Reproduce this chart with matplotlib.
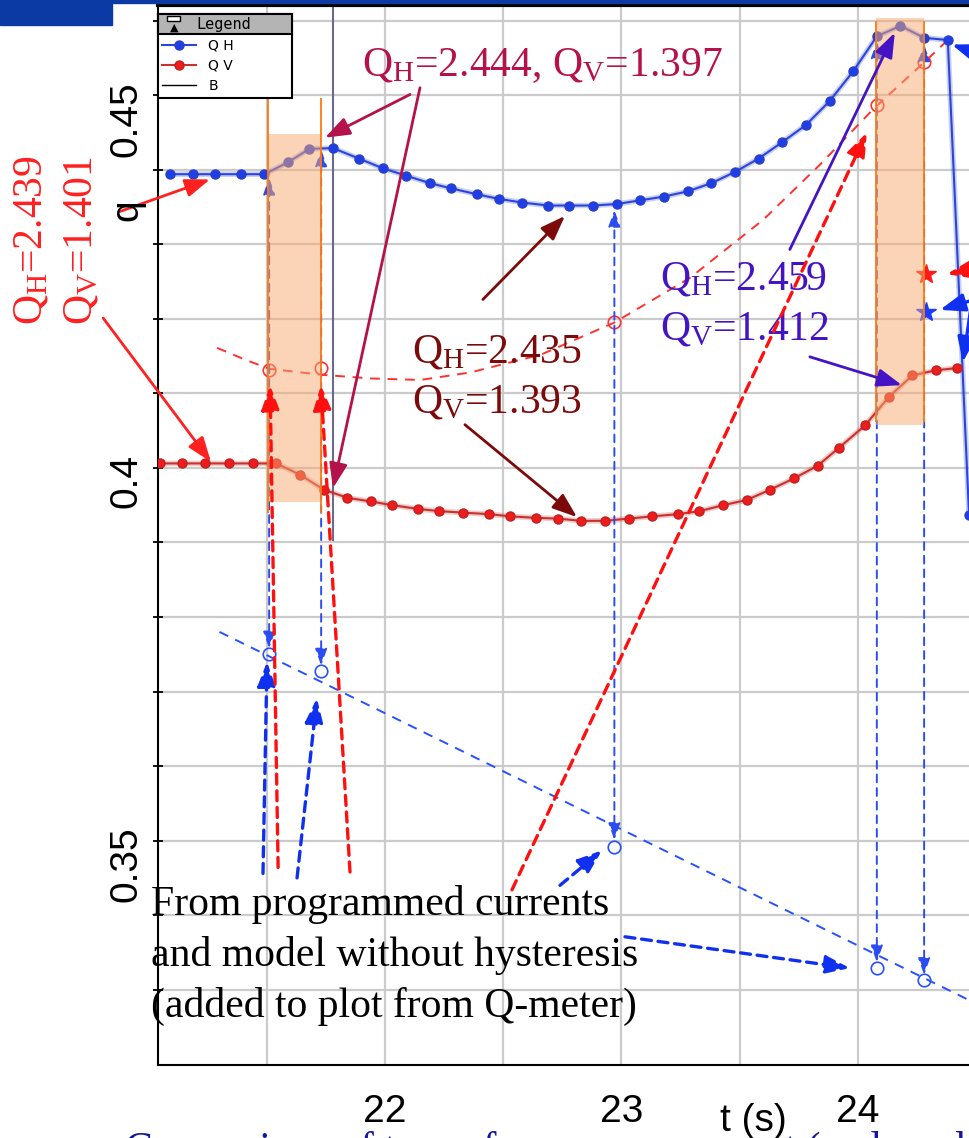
import numpy as np
import matplotlib.pyplot as plt
from matplotlib.patches import Rectangle
from matplotlib.lines import Line2D

plt.rcParams['mathtext.fontset'] = 'custom'
plt.rcParams['mathtext.rm'] = 'Liberation Serif'
plt.rcParams['mathtext.it'] = 'Liberation Serif:italic'
plt.rcParams['mathtext.bf'] = 'Liberation Serif:bold'

SERIF = 'Liberation Serif'
SANS = ['Liberation Sans Narrow', 'Liberation Sans']

# Q-meter, fractional horizontal tune
t_h = [21.09, 21.19, 21.28, 21.39, 21.49, 21.59, 21.68, 21.78, 21.89, 21.99,
       22.09, 22.19, 22.28, 22.39, 22.48, 22.58, 22.69, 22.78, 22.88, 22.98,
       23.08, 23.18, 23.28, 23.38, 23.48, 23.58, 23.68, 23.78, 23.88, 23.98,
       24.08, 24.18, 24.28, 24.38, 24.47]
q_h = [0.4394, 0.4394, 0.4394, 0.4394, 0.4394, 0.4410, 0.4428, 0.4429, 0.4415, 0.4402,
       0.4392, 0.4382, 0.4375, 0.4367, 0.4361, 0.4356, 0.4352, 0.4352, 0.4352, 0.4354,
       0.4359, 0.4364, 0.4371, 0.4382, 0.4397, 0.4415, 0.4437, 0.4460, 0.4492, 0.4532,
       0.4579, 0.4593, 0.4577, 0.4574, 0.3937]

# Q-meter, fractional vertical tune
t_v = [21.05, 21.14, 21.24, 21.34, 21.44, 21.54, 21.64, 21.74, 21.84, 21.94,
       22.03, 22.14, 22.23, 22.33, 22.44, 22.53, 22.64, 22.73, 22.83, 22.93,
       23.03, 23.13, 23.24, 23.33, 23.43, 23.53, 23.63, 23.73, 23.83, 23.92,
       24.03, 24.13, 24.23, 24.33, 24.42]
q_v = [0.4006, 0.4006, 0.4006, 0.4006, 0.4006, 0.4006, 0.3991, 0.3971, 0.3960, 0.3955,
       0.3950, 0.3945, 0.3942, 0.3940, 0.3938, 0.3935, 0.3933, 0.3932, 0.3929, 0.3929,
       0.3932, 0.3935, 0.3938, 0.3942, 0.3950, 0.3957, 0.3971, 0.3986, 0.4003, 0.4027,
       0.4057, 0.4095, 0.4124, 0.4131, 0.4134]

# model without hysteresis (from programmed currents)
t_model_v = [21.29, 21.41, 21.51, 21.73, 21.94, 22.15, 22.36, 22.66, 22.97, 23.29,
             23.60, 23.84, 24.07, 24.28, 24.39]
q_model_v = [0.4161, 0.4145, 0.4133, 0.4125, 0.4120, 0.4118, 0.4128, 0.4152, 0.4195, 0.4255,
             0.4333, 0.4407, 0.4483, 0.4544, 0.4577]
t_model_h = [21.30, 24.47]
q_model_h = [0.3780, 0.3286]

t_prog = [21.51, 21.73, 22.97, 24.08, 24.28]
q_prog_v = [0.4132, 0.4134, 0.4196, 0.4487, 0.4545]
q_prog_h = [0.3751, 0.3728, 0.3492, 0.3329, 0.3313]
q_meas_top = [0.4389, 0.4427, 0.4346, 0.4572, 0.4568]
q_prog_low = [0.3758, 0.3735, 0.3501, 0.3337, 0.3320]

t_star = 24.29
q_star_v = 0.4260
q_star_h = 0.4209

b_t = 21.78
b_q = [0.3903, 0.4621]

band_t = [(21.505, 21.729), (24.076, 24.279)]
band_q = [(0.3954, 0.4448), (0.4058, 0.4604)]
band_line_q = [(0.3940, 0.4496), (0.4062, 0.4600)]

fig = plt.figure(figsize=(9.7, 11.38), dpi=100)
ax = fig.add_axes([158 / 970, 73 / 1138, 812 / 970, 1060 / 1138])
ax.set_xlim(21.040, 24.474)
ax.set_ylim(0.3199, 0.4621)

ax.set_xticks([22, 23, 24])
ax.set_xticks([21.5, 22.5, 23.5], minor=True)
ax.set_yticks([0.35, 0.40, 0.45])
ax.set_yticklabels(['0.35', '0.4', '0.45'])
ax.set_yticks(np.arange(0.33, 0.465, 0.01), minor=True)
ax.grid(which='both', color='#cbcbcb', lw=1.6)
ax.set_axisbelow(True)
ax.tick_params(axis='x', which='both', length=0, pad=21, labelsize=28)
ax.tick_params(axis='y', which='both', direction='inout', length=7, width=1.3,
               pad=6, labelsize=28, labelrotation=90)
for lab in ax.get_xticklabels() + ax.get_yticklabels():
    lab.set_family(SANS)
ax.spines['right'].set_visible(False)
ax.spines['top'].set_linewidth(3)
ax.spines['left'].set_linewidth(1.5)
ax.spines['bottom'].set_linewidth(1.5)

# slide header
fig.patches.append(Rectangle((0, 1 - 25 / 1138), 112 / 970, 25 / 1138,
                             transform=fig.transFigure, color='#0b3aa4'))
fig.patches.append(Rectangle((0, 1 - 3 / 1138), 1, 3 / 1138,
                             transform=fig.transFigure, color='#0b3aa4'))

# measured tunes
ax.plot(t_h, q_h, color='#2b45d8', lw=4, alpha=0.25, zorder=3)
ln_h, = ax.plot(t_h, q_h, '-o', color='#2b45d8', mfc='#1f3fe6', mec='#2a3fc8',
                ms=6.5, lw=1.5, zorder=3)
ax.plot(t_v, q_v, color='#c8322e', lw=4, alpha=0.25, zorder=3)
ln_v, = ax.plot(t_v, q_v, '-o', color='#c8322e', mfc='#ee1c1c', mec='#c02020',
                ms=6.5, lw=1.5, zorder=3)
ax.plot([b_t, b_t], b_q, color='#6a6a8a', lw=1.5, zorder=2)

# model curves and points
ax.plot(t_model_v, q_model_v, ls=(0, (5, 4)), color='#ff3030', lw=1.4, zorder=2)
ax.plot(t_model_h, q_model_h, ls=(0, (5, 4)), color='#2850ff', lw=1.4, zorder=2)
ax.plot(t_prog, q_prog_v, 'o', mfc='none', mec='#ff3030', ms=9, mew=1.2, zorder=3)
ax.plot(t_prog, q_prog_h, 'o', mfc='none', mec='#2850ff', ms=9, mew=1.2, zorder=3)
ax.plot([t_star], [q_star_v], '*', color='#ff1a1a', ms=15, zorder=3)
ax.plot([t_star], [q_star_h], '*', color='#1a3cff', ms=15, zorder=3)

for t, qa, qb in zip(t_prog, q_meas_top, q_prog_low):
    a = ax.annotate('', xy=(t, qa), xytext=(t, qb),
                    arrowprops=dict(arrowstyle='<|-|>,head_length=0.5,head_width=0.18',
                                    color='#2a4cf0', lw=1.4, linestyle=(0, (4, 3)),
                                    mutation_scale=20, shrinkA=0, shrinkB=0),
                    zorder=3)

# ramp windows
for (t0, t1), (q0, q1), (l0, l1) in zip(band_t, band_q, band_line_q):
    ax.add_patch(Rectangle((t0, q0), t1 - t0, q1 - q0, fc='#f9a86e', alpha=0.5,
                           lw=0, zorder=4))
    ax.vlines([t0, t1], l0, l1, color='#ff7a10', lw=1.3, zorder=4)


def arrow(tail, head, color, lw=2.0, ls='-'):
    a = ax.annotate('', xy=head, xytext=tail, annotation_clip=False,
                    arrowprops=dict(arrowstyle='-|>,head_length=0.6,head_width=0.22',
                                    color=color, lw=lw, linestyle=ls,
                                    mutation_scale=25, shrinkA=0, shrinkB=0),
                    zorder=6)
    a.arrow_patch.set_clip_on(False)


def note(x, y, s, color):
    ax.text(x, y, s, color=color, family=SERIF, fontsize=30, va='baseline', zorder=6)


# annotations
c_top = '#b5114a'
note(21.903, 0.4526, 'Q$_\\mathrm{H}$=2.444, Q$_\\mathrm{V}$=1.397', c_top)
arrow((22.106, 0.4501), (21.746, 0.4443), c_top)
arrow((22.148, 0.4510), (21.780, 0.3973), c_top)

c_left = '#ff2020'
fig.text(42 / 970, 1 - 325 / 1138, 'Q$_\\mathrm{H}$=2.439', color=c_left, family=SERIF,
         fontsize=30, rotation=90, rotation_mode='anchor', ha='left', va='baseline')
fig.text(92 / 970, 1 - 325 / 1138, 'Q$_\\mathrm{V}$=1.401', color=c_left, family=SERIF,
         fontsize=30, rotation=90, rotation_mode='anchor', ha='left', va='baseline')
arrow((20.879, 0.4344), (21.260, 0.4387), c_left)
arrow((20.808, 0.4201), (21.264, 0.4008), c_left)

c_mid = '#7d0a0a'
note(22.114, 0.4142, 'Q$_\\mathrm{H}$=2.435', c_mid)
note(22.114, 0.4075, 'Q$_\\mathrm{V}$=1.393', c_mid)
arrow((22.414, 0.4226), (22.761, 0.4338), c_mid)
arrow((22.338, 0.4058), (22.812, 0.3934), c_mid)

c_right = '#4414c4'
note(23.163, 0.4239, 'Q$_\\mathrm{H}$=2.459', c_right)
note(23.163, 0.4172, 'Q$_\\mathrm{V}$=1.412', c_right)
arrow((23.712, 0.4293), (24.156, 0.4584), c_right)
arrow((23.797, 0.4149), (24.186, 0.4111), c_right)

for i, line in enumerate(['From programmed currents', 'and model without hysteresis',
                          '(added to plot from Q-meter)']):
    ax.text(21.011, 0.3400 - i * 0.00685, line, color='black', family=SERIF,
            fontsize=30, va='baseline', zorder=6)

dash = (0, (3, 2))
for tail, head in [((21.484, 0.3456), (21.501, 0.3740)), ((21.628, 0.3450), (21.712, 0.3691)),
                   ((22.740, 0.3440), (22.918, 0.3487)), ((23.015, 0.3371), (23.966, 0.3329))]:
    arrow(tail, head, '#1030f0', lw=2.4, ls=dash)
for tail, head in [((21.548, 0.3464), (21.514, 0.4111)), ((21.852, 0.3458), (21.729, 0.4111)),
                   ((22.537, 0.3434), (24.038, 0.4450))]:
    arrow(tail, head, '#ff1010', lw=2.4, ls=dash)

arrow((24.558, 0.4550), (24.397, 0.4568), '#1030f0', lw=2.4)
arrow((24.558, 0.4271), (24.376, 0.4260), '#ff1010', lw=2.4, ls=dash)
arrow((24.558, 0.4232), (24.347, 0.4212), '#1030f0', lw=2.4)
arrow((24.495, 0.4252), (24.444, 0.4142), '#1030f0', lw=2.4)

# axis texts
fig.text(145 / 970, 1 - 210 / 1138, 'q', family=SANS, fontsize=28, rotation=90,
         ha='right', va='center')
fig.text(720 / 970, 1 - 1103 / 1138, 't (s)', family=SANS, fontsize=28, va='top')
fig.text(125 / 970, 1 - 1161 / 1138, 'Comparison of tunes from measurement (and model)',
         color='#16169a', family=SERIF, fontsize=30, va='baseline')

# legend box
def ax_frac(px, py):
    return (px - 158) / 812, (1065 - py) / 1060

x0, y0 = ax_frac(158, 98)
x1, y1 = ax_frac(292, 14)
_, yt = ax_frac(158, 34)
ax.add_patch(Rectangle((x0, y0), x1 - x0, y1 - y0, transform=ax.transAxes, fc='white',
                       ec='black', lw=1.5, zorder=7, clip_on=False))
ax.add_patch(Rectangle((x0, yt), x1 - x0, y1 - yt, transform=ax.transAxes, fc='#b4b4b4',
                       ec='black', lw=1.5, zorder=7, clip_on=False))
ix, iy = ax_frac(167, 21)
ax.add_patch(Rectangle((ix, iy), 13 / 812, 5 / 1060, transform=ax.transAxes, fc='white',
                       ec='black', lw=1, zorder=8))
tx, ty = ax_frac(174, 28)
ax.text(tx, ty, '\u25b2', transform=ax.transAxes, fontsize=8, ha='center', va='center',
        zorder=8, family='DejaVu Sans')
lx, ly = ax_frac(196, 24)
ax.text(lx, ly, 'Legend', transform=ax.transAxes, fontsize=11, va='center', zorder=8,
        family='DejaVu Sans Mono')
b_proxy = Line2D([], [], color='black', lw=1)
gx, gy = ax_frac(161, 37)
leg = ax.legend([ln_h, ln_v, b_proxy], ['Q H', 'Q V', 'B'], loc='upper left',
                bbox_to_anchor=(gx, gy), frameon=False, fontsize=10, handlelength=2.4,
                handletextpad=0.9, labelspacing=0.45, borderaxespad=0, borderpad=0.1,
                numpoints=1)
leg.set_zorder(9)

fig.savefig('out.png', dpi=100)
